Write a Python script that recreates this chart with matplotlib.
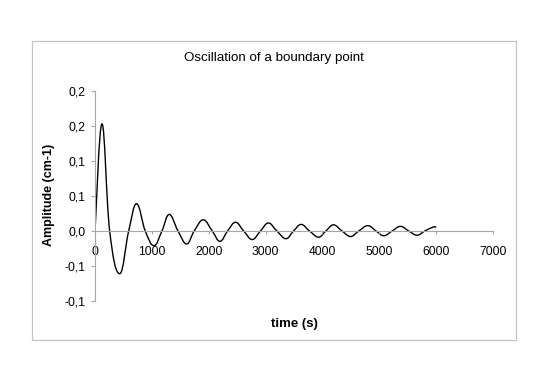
# -*- coding: utf-8 -*-

import numpy as np
import matplotlib
matplotlib.use('Agg')
import matplotlib.pyplot as plt
from matplotlib.path import Path
from matplotlib.patches import PathPatch, Rectangle

# values (extrema and zero crossings of the signal)
time_s = [0, 123, 258, 434, 592, 732, 884, 1037, 1177, 1306, 1460, 1611, 1745,
          1904, 2062, 2197, 2332, 2472, 2615, 2765, 2910, 3050, 3199, 3357,
          3492, 3626, 3773, 3931, 4060, 4195, 4345, 4495, 4640, 4798, 4944,
          5079, 5225, 5373, 5518, 5664, 5800, 5950, 6000]
amplitude = [0, 0.153, 0, -0.061, 0, 0.039, 0, -0.021, 0, 0.0237, 0, -0.0185,
             0, 0.016, 0, -0.0148, 0, 0.0125, 0, -0.0122, 0, 0.0114, 0, -0.011,
             0, 0.0094, 0, -0.0088, 0, 0.0088, 0, -0.0079, 0, 0.0076, 0,
             -0.0068, 0, 0.0066, 0, -0.0060, 0, 0.0057, 0.0052]

xticks = [0, 1000, 2000, 3000, 4000, 5000, 6000, 7000]
xtick_labels = ['0', '1000', '2000', '3000', '4000', '5000', '6000', '7000']
yticks = [-0.1, -0.05, 0.0, 0.05, 0.1, 0.15, 0.2]
ytick_labels = ['-0,1', '-0,1', '0,0', '0,1', '0,1', '0,2', '0,2']

W, H = 549, 382
grey = '#a6a6a6'
plt.rcParams['font.family'] = ['Liberation Sans', 'DejaVu Sans']


def smooth_path(x, y, k=0.2):
    # excel style "smoothed line": cubic bezier segments through the points
    pts = np.column_stack([x, y]).astype(float)
    n = len(pts)
    tang = np.zeros_like(pts)
    for i in range(n):
        a = pts[max(i - 1, 0)]
        b = pts[min(i + 1, n - 1)]
        tang[i] = (b - a) * k
    verts = [pts[0]]
    codes = [Path.MOVETO]
    for i in range(n - 1):
        verts += [pts[i] + tang[i], pts[i + 1] - tang[i + 1], pts[i + 1]]
        codes += [Path.CURVE4] * 3
    return Path(verts, codes)


fig = plt.figure(figsize=(W / 100.0, H / 100.0), dpi=100)

# chart area border
fig.add_artist(Rectangle((32.3 / W, 1 - 340.0 / H), (516 - 32.3) / W, (340 - 40.7) / H,
                         transform=fig.transFigure, fill=False, ec='#c4c4c4', lw=0.9))

ax = fig.add_axes([95.0 / W, 1 - 301.0 / H, (493 - 95.0) / W, (301 - 91.0) / H])
ax.set_xlim(0, 7000)
ax.set_ylim(-0.1, 0.2)

ax.add_patch(PathPatch(smooth_path(time_s, amplitude), fill=False, ec='black', lw=1.0))

for s in ['top', 'right']:
    ax.spines[s].set_visible(False)
ax.spines['bottom'].set_position(('data', 0))
for s in ['left', 'bottom']:
    ax.spines[s].set_color(grey)
    ax.spines[s].set_linewidth(0.8)

ax.set_xticks(xticks)
ax.set_xticklabels(xtick_labels)
ax.set_yticks(yticks)
ax.set_yticklabels(ytick_labels)
ax.tick_params(axis='y', direction='out', length=3, width=0.8, color=grey,
               pad=4, labelsize=8.7)
ax.tick_params(axis='x', direction='out', length=2.5, width=0.8, color=grey,
               pad=8.5, labelsize=8.7)
ax.patch.set_visible(False)

fig.text(274.0 / W, 1 - 58.0 / H, 'Oscillation of a boundary point', ha='center', va='center',
         fontsize=9.6)
fig.text(294.0 / W, 1 - 324.0 / H, 'time (s)', ha='center', va='center',
         fontsize=9.5, fontweight='bold')
fig.text(49.0 / W, 1 - 195.0 / H, 'Amplitude (cm-1)', ha='center', va='center',
         rotation=90, fontsize=9.0, fontweight='bold')

fig.savefig('out.png', dpi=100)
